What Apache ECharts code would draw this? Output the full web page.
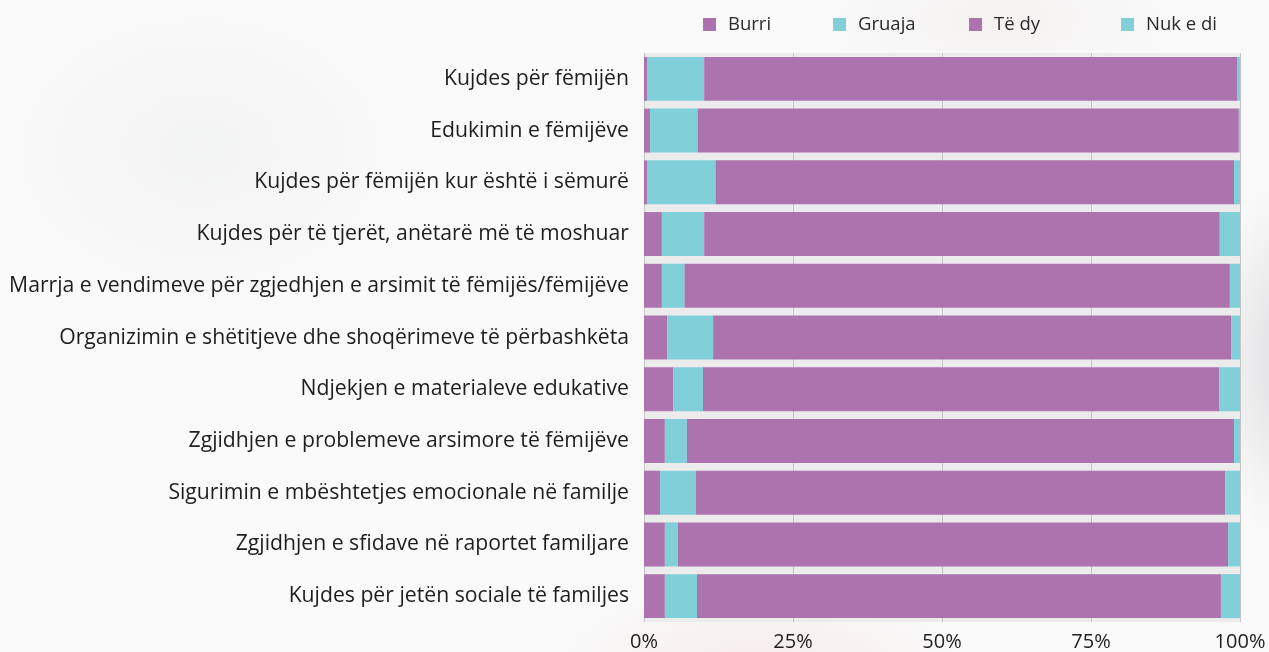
<!DOCTYPE html>
<html>
<head>
<meta charset="utf-8">
<script src="https://cdn.jsdelivr.net/npm/echarts@6/dist/echarts.min.js"></script>
<style>
  html, body { margin: 0; padding: 0; }
  body {
    width: 1269px; height: 652px; overflow: hidden;
    background:
      radial-gradient(ellipse 300px 220px at 200px 150px, rgba(228,230,232,0.35), rgba(255,255,255,0) 70%),
      radial-gradient(ellipse 110px 260px at 1285px 360px, rgba(200,200,205,0.55), rgba(255,255,255,0) 70%),
      radial-gradient(ellipse 300px 120px at 760px 665px, rgba(240,224,222,0.55), rgba(255,255,255,0) 70%),
      radial-gradient(ellipse 260px 120px at 1000px 20px, rgba(238,234,232,0.5), rgba(255,255,255,0) 70%),
      #fafafa;
  }
  #chart { width: 1269px; height: 652px; }
</style>
</head>
<body>
<div id="chart"></div>
<script>
// Task categories, top to bottom
const categories = [
  'Kujdes për fëmijën',
  'Edukimin e fëmijëve',
  'Kujdes për fëmijën kur është i sëmurë',
  'Kujdes për të tjerët, anëtarë më të moshuar',
  'Marrja e vendimeve për zgjedhjen e arsimit të fëmijës/fëmijëve',
  'Organizimin e shëtitjeve dhe shoqërimeve të përbashkëta',
  'Ndjekjen e materialeve edukative',
  'Zgjidhjen e problemeve arsimore të fëmijëve',
  'Sigurimin e mbështetjes emocionale në familje',
  'Zgjidhjen e sfidave në raportet familjare',
  'Kujdes për jetën sociale të familjes'
];

// Shares in percent
const burri  = [0.5, 1.0, 0.5, 3.0, 3.0, 3.9, 4.9, 3.5, 2.7, 3.5, 3.5];
const gruaja = [9.6, 8.0, 11.5, 7.1, 3.8, 7.7, 5.0, 3.7, 6.0, 2.2, 5.4];
const teDy   = [89.5, 90.8, 87.0, 86.5, 91.5, 86.9, 86.6, 91.8, 88.8, 92.3, 87.9];
const nukEDi = [0.4, 0.2, 1.0, 3.4, 1.7, 1.5, 3.5, 1.0, 2.5, 2.0, 3.2];

const xTicks = [0, 25, 50, 75, 100];

const PURPLE = '#ad73af';
const TEAL = '#80cfd9';
const FONT = 'Open Sans';
const TEXT = '#1e1e1e';

const chart = echarts.init(document.getElementById('chart'), null, { renderer: 'canvas' });

function legendItem(name, color, left) {
  return {
    data: [{ name: name, itemStyle: { color: color } }],
    left: left,
    top: 15,
    padding: 0,
    icon: 'rect',
    itemWidth: 13,
    itemHeight: 13,
    selectedMode: false,
    textStyle: { fontFamily: FONT, fontSize: 18.5, color: '#2a2a2a', padding: [0, 0, 0, 7] }
  };
}

function barSeries(name, values, color) {
  return {
    name: name,
    type: 'bar',
    stack: 'total',
    barCategoryGap: '15%',
    data: values,
    itemStyle: { color: color },
    emphasis: { disabled: true }
  };
}

chart.setOption({
  animation: false,
  backgroundColor: 'transparent',
  textStyle: { fontFamily: FONT },
  legend: [
    legendItem('Burri', PURPLE, 703),
    legendItem('Gruaja', TEAL, 833),
    legendItem('Të dy', PURPLE, 969),
    legendItem('Nuk e di', TEAL, 1121)
  ],
  grid: {
    left: 644, right: 29, top: 53, bottom: 30,
    show: true, backgroundColor: '#ececec', borderWidth: 0
  },
  xAxis: {
    type: 'value',
    min: xTicks[0],
    max: xTicks[xTicks.length - 1],
    interval: 25,
    axisLine: { show: false },
    axisTick: { show: false },
    splitLine: { show: true, lineStyle: { color: '#c4c4c4', width: 1 } },
    axisLabel: {
      formatter: '{value}%',
      fontFamily: FONT, fontSize: 20, color: TEXT, margin: 10
    }
  },
  yAxis: {
    type: 'category',
    data: categories,
    inverse: true,
    axisLine: { show: false },
    axisTick: { show: false },
    axisLabel: { fontFamily: FONT, fontSize: 21.2, color: TEXT, margin: 15 }
  },
  series: [
    barSeries('Burri', burri, PURPLE),
    barSeries('Gruaja', gruaja, TEAL),
    barSeries('Të dy', teDy, PURPLE),
    barSeries('Nuk e di', nukEDi, TEAL)
  ]
});
</script>
</body>
</html>
